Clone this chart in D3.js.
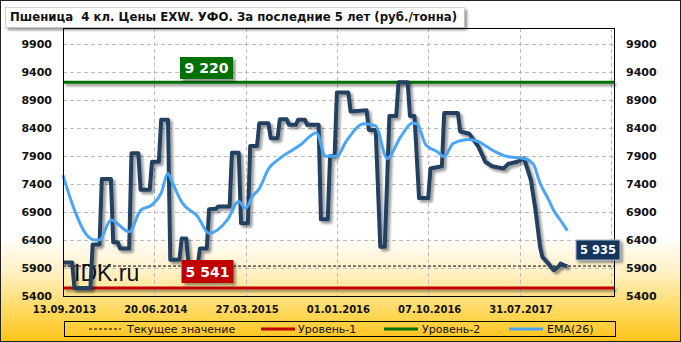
<!DOCTYPE html>
<html>
<head>
<meta charset="utf-8">
<script src="https://cdn.jsdelivr.net/npm/d3@7"></script>
<style>
  html, body { margin: 0; padding: 0; background: #fff; }
  svg { display: block; }
</style>
</head>
<body>
<svg id="chart" width="681" height="342"></svg>
<script>
// Wheat price, weekly points (week index from 13.09.2013)
const priceWeeks = [0,4,5,12,13,16,17,21,22,24,25,29,30,33,34,38,39,42,43,46,47,51,52,54,55,59,60,63,64,67,68,73,74,77,78,81,82,85,86,90,91,94,95,98,99,102,103,106,107,112,113,116,117,119,120,125,126,133,134,137,139,141,143,146,147,151,152,154,156,160,161,166,167,173,174,178,182,185,188,193,195,199,202,204,205,207,209,210,212,215,217,218,220,221];
const priceValues = [6000,6000,5541,5541,6320,6320,7490,7490,6360,6360,6250,6250,7950,7950,7300,7300,7800,7800,8550,8550,6050,6050,6430,6430,5950,5950,6250,6250,6950,6960,7000,7000,7960,7960,6700,6700,8080,8080,8490,8490,8220,8220,8560,8560,8460,8460,8550,8550,8460,8460,6770,6770,7900,7900,9040,9040,8700,8720,8370,8370,6280,6280,8620,8620,9220,9220,8620,8620,7150,7150,7680,7720,8670,8670,8340,8300,8070,7800,7720,7680,7760,7800,7860,7600,7470,6940,6280,6100,6010,5860,5920,5980,5940,5935];

// EMA(26)
const emaWeeks = [0,5,10,14,16,21,29,34,39,43,46,48,52,59,64,72,77,80,83,86,90,95,104,111,115,120,124,132,137,142,148,153,155,159,164,167,171,178,182,188,194,197,202,206,209,213,215,218,221];
const emaValues = [7560,6940,6510,6400,6400,6760,6550,6930,7030,7240,7590,7420,7080,6820,6520,6760,7090,6970,7180,7320,7670,7860,8100,8320,7900,7900,8160,8480,8440,7860,8250,8490,8480,8100,7980,7890,8130,8200,8160,8010,7900,7880,7860,7760,7420,7100,6930,6750,6570];

const currentValue = 5935;
const level1 = 5541;
const level2 = 9220;

const yTicks = [5400,5900,6400,6900,7400,7900,8400,8900,9400,9900];
const xTickWeeks = [0,40,80,120,160,200];
const xTickLabels = ["13.09.2013","20.06.2014","27.03.2015","01.01.2016","07.10.2016","31.07.2017"];
const gridWeeks = [40,80,120,160,200,240];

const legendLabels = ["Текущее значение","Уровень-1","Уровень-2","EMA(26)"];

const titleText = "Пшеница  4 кл. Цены EXW. УФО. За последние 5 лет (руб./тонна)";

const colors = {
  price: "#243F60",
  ema: "#4AA5F5",
  level1: "#C00000",
  level2: "#007000",
  grid: "#BDBDBD"
};

const fmt = d3.formatLocale({decimal: ",", thousands: " ", grouping: [3], currency: ["", ""]}).format(",d");

const plot = {left: 63, right: 614, top: 28, bottom: 296};

const svg = d3.select("#chart");
const defs = svg.append("defs");

// background gradient
const bg = defs.append("linearGradient")
  .attr("id", "bg").attr("x1", 0).attr("y1", 0).attr("x2", 0).attr("y2", 1);
bg.append("stop").attr("offset", 0.69).attr("stop-color", "#FFFFFF");
bg.append("stop").attr("offset", 0.8).attr("stop-color", "#FFF0C2");
bg.append("stop").attr("offset", 0.91).attr("stop-color", "#FFD95E");
bg.append("stop").attr("offset", 1).attr("stop-color", "#FFC31A");

const shadow = defs.append("filter").attr("id", "shadow")
  .attr("x", "-10%").attr("y", "-10%").attr("width", "130%").attr("height", "140%");
shadow.append("feDropShadow")
  .attr("dx", 2.5).attr("dy", 2.5).attr("stdDeviation", 1.3)
  .attr("flood-color", "#000").attr("flood-opacity", 0.4);

svg.append("rect")
  .attr("x", 0.5).attr("y", 0.5).attr("width", 680).attr("height", 341)
  .attr("fill", "url(#bg)").attr("stroke", "#222");

// scales
const x = d3.scaleLinear().domain([0, 240]).range([plot.left, 610.8]);
const y = d3.scaleLinear().domain([5400, 9900]).range([plot.bottom, 44.3]);

// grid
const grid = svg.append("g").attr("stroke", colors.grid).attr("stroke-dasharray", "4,3");
grid.selectAll("line.h").data(yTicks.slice(1)).enter().append("line")
  .attr("x1", plot.left).attr("x2", plot.right)
  .attr("y1", d => Math.round(y(d)) + 0.5).attr("y2", d => Math.round(y(d)) + 0.5);
grid.selectAll("line.v").data(gridWeeks).enter().append("line")
  .attr("x1", d => Math.round(x(d)) + 0.5).attr("x2", d => Math.round(x(d)) + 0.5)
  .attr("y1", plot.top).attr("y2", plot.bottom);

// y axis labels (left and right)
const yLabelFont = "bold 11px 'DejaVu Sans', sans-serif";
svg.append("g").selectAll("text").data(yTicks).enter().append("text")
  .attr("x", 52).attr("y", d => y(d)).attr("dy", "0.36em")
  .attr("text-anchor", "end").style("font", yLabelFont).attr("fill", "#111")
  .text(d => d);
svg.append("g").selectAll("text").data(yTicks).enter().append("text")
  .attr("x", 626).attr("y", d => y(d)).attr("dy", "0.36em")
  .attr("text-anchor", "start").style("font", yLabelFont).attr("fill", "#111")
  .text(d => d);

// x axis labels
svg.append("g").selectAll("text").data(xTickWeeks).enter().append("text")
  .attr("x", (d, i) => x(d) + 1.5).attr("y", 313)
  .attr("text-anchor", "middle")
  .style("font", "bold 10px 'DejaVu Sans', sans-serif").attr("fill", "#111")
  .text((d, i) => xTickLabels[i]);

// watermark
svg.append("text")
  .attr("x", 74).attr("y", 281)
  .style("font", "23px 'Liberation Sans', Arial, sans-serif")
  .attr("fill", "#111")
  .text("IDK.ru");

// level lines
const levels = svg.append("g").attr("filter", "url(#shadow)");
levels.append("line")
  .attr("x1", plot.left).attr("x2", plot.right)
  .attr("y1", y(level2)).attr("y2", y(level2))
  .attr("stroke", colors.level2).attr("stroke-width", 3);
levels.append("line")
  .attr("x1", plot.left).attr("x2", plot.right)
  .attr("y1", y(level1)).attr("y2", y(level1))
  .attr("stroke", colors.level1).attr("stroke-width", 3);

svg.append("line")
  .attr("x1", plot.left).attr("x2", plot.right)
  .attr("y1", y(currentValue)).attr("y2", y(currentValue))
  .attr("stroke", "#000").attr("stroke-width", 1).attr("stroke-dasharray", "3,2");

// price line
const priceData = d3.zip(priceWeeks, priceValues);
const line = d3.line().x(d => x(d[0])).y(d => y(d[1]));
svg.append("path")
  .datum(priceData)
  .attr("d", line)
  .attr("fill", "none")
  .attr("stroke", colors.price)
  .attr("stroke-width", 4)
  .attr("stroke-linejoin", "round")
  .attr("filter", "url(#shadow)");

// EMA line
const emaData = d3.zip(emaWeeks, emaValues);
svg.append("path")
  .datum(emaData)
  .attr("d", d3.line().x(d => x(d[0])).y(d => y(d[1])).curve(d3.curveMonotoneX))
  .attr("fill", "none")
  .attr("stroke", colors.ema)
  .attr("stroke-width", 3)
  .attr("stroke-linejoin", "round");

// plot frame
svg.append("rect")
  .attr("x", plot.left + 0.5).attr("y", plot.top + 0.5)
  .attr("width", plot.right - plot.left).attr("height", plot.bottom - plot.top)
  .attr("fill", "none").attr("stroke", "#000");

// value boxes
function valueBox(cx, cy, w, h, fill, text, fontSize, border) {
  const g = svg.append("g");
  g.append("rect")
    .attr("x", cx - w / 2).attr("y", cy - h / 2).attr("width", w).attr("height", h)
    .attr("fill", fill)
    .attr("stroke", border || "none")
    .attr("filter", "url(#shadow)");
  g.append("text")
    .attr("x", cx).attr("y", cy).attr("dy", "0.36em")
    .attr("text-anchor", "middle")
    .style("font", `bold ${fontSize}px 'DejaVu Sans', sans-serif`)
    .attr("fill", "#fff")
    .text(text);
}
valueBox(206.5, 68, 53, 22, colors.level2, fmt(level2), 14);
valueBox(207.5, 271.5, 52, 23, colors.level1, fmt(level1), 14);
valueBox(598, 250, 44, 20, "#17365D", fmt(currentValue), 11.5, "#9fb3cc");

// title box
svg.append("rect")
  .attr("x", 5.5).attr("y", 7.5).attr("width", 459).attr("height", 20)
  .attr("fill", "#fff").attr("stroke", "#aaa").attr("stroke-width", 0.5)
  .attr("filter", "url(#shadow)");
svg.append("text")
  .attr("x", 10).attr("y", 20.5)
  .attr("textLength", 447).attr("lengthAdjust", "spacingAndGlyphs")
  .style("font", "bold 12px 'DejaVu Sans', sans-serif")
  .style("white-space", "pre")
  .attr("fill", "#111")
  .text(titleText);

// legend
const legend = svg.append("g");
legend.append("rect")
  .attr("x", 64.5).attr("y", 321.5).attr("width", 551).attr("height", 15)
  .attr("fill", "none").attr("stroke", "#000");
const legendStyles = [
  {x1: 89, x2: 121, tx: 127, stroke: "#000", width: 1, dash: "3,2"},
  {x1: 261, x2: 295, tx: 298, stroke: colors.level1, width: 3, dash: null},
  {x1: 384, x2: 418, tx: 422, stroke: colors.level2, width: 3, dash: null},
  {x1: 509, x2: 543, tx: 547, stroke: colors.ema, width: 3, dash: null}
];
legendLabels.forEach((label, i) => {
  const s = legendStyles[i];
  legend.append("line")
    .attr("x1", s.x1).attr("x2", s.x2).attr("y1", 329).attr("y2", 329)
    .attr("stroke", s.stroke).attr("stroke-width", s.width)
    .attr("stroke-dasharray", s.dash);
  legend.append("text")
    .attr("x", s.tx).attr("y", 329).attr("dy", "0.36em")
    .style("font", "11px 'DejaVu Sans', sans-serif").attr("fill", "#111")
    .text(label);
});
</script>
</body>
</html>
